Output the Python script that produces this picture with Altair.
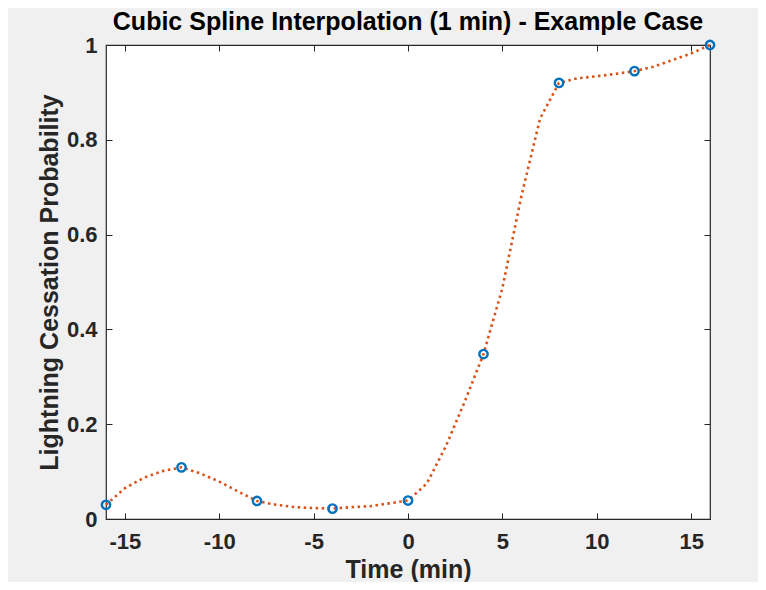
import altair as alt
import pandas as pd

# 1-minute spline values
minutes = list(range(-16, 17))
spline_prob = [0.030, 0.065, 0.087, 0.101, 0.109, 0.096, 0.079, 0.058, 0.038,
               0.030, 0.025, 0.023, 0.022, 0.025, 0.027, 0.033, 0.039,
               0.075, 0.153, 0.247, 0.348, 0.487, 0.680, 0.845, 0.920,
               0.930, 0.934, 0.939, 0.945, 0.954, 0.968, 0.982, 1.000]

# Original data points (every 4 min)
obs_minutes = [-16, -12, -8, -4, 0, 4, 8, 12, 16]
obs_prob = [0.030, 0.109, 0.038, 0.022, 0.039, 0.348, 0.920, 0.945, 1.000]

x_ticks = [-15, -10, -5, 0, 5, 10, 15]
y_ticks = [0, 0.2, 0.4, 0.6, 0.8, 1.0]

line_df = pd.DataFrame({"t": minutes, "p": spline_prob})
pts_df = pd.DataFrame({"t": obs_minutes, "p": obs_prob})

FONT = "Liberation Sans"
AX = "#262626"

xscale = alt.Scale(domain=[-16, 16], nice=False, zero=False)
yscale = alt.Scale(domain=[0, 1], nice=False)

tick_axis = dict(domain=False, grid=False, tickColor=AX, tickSize=6, tickWidth=1,
                 offset=-6, labelFont=FONT, labelFontSize=22, labelFontWeight="bold",
                 labelColor=AX)
common_axis = dict(tick_axis, titleFont=FONT, titleFontSize=25, titleFontWeight="bold",
                   titleColor=AX)

line = alt.Chart(line_df).mark_line(
    color="#D95319", strokeWidth=2.6, strokeDash=[2.5, 3.5], interpolate="linear"
).encode(
    x=alt.X("t:Q", scale=xscale,
            axis=alt.Axis(values=x_ticks, orient="bottom", title="Time (min)",
                          labelExpr="'' + datum.value",
                          labelPadding=12, titlePadding=5, **common_axis)),
    y=alt.Y("p:Q", scale=yscale,
            axis=alt.Axis(values=y_ticks, orient="left", format=".1~f",
                          title="Lightning Cessation Probability",
                          labelPadding=9, titlePadding=4, **common_axis)),
)

pts = alt.Chart(pts_df).mark_point(
    shape="circle", filled=False, color="#0072BD", size=70, strokeWidth=2.4, opacity=1
).encode(
    x=alt.X("t:Q", scale=xscale,
            axis=alt.Axis(values=x_ticks, orient="top", labels=False, title=None, **tick_axis)),
    y=alt.Y("p:Q", scale=yscale,
            axis=alt.Axis(values=y_ticks, orient="right", labels=False, title=None, **tick_axis)),
)

chart = alt.layer(line, pts).resolve_axis(x="independent", y="independent").properties(
    width=604,
    height=474,
    title=alt.TitleParams("Cubic Spline Interpolation (1 min) - Example Case",
                          font=FONT, fontSize=25, fontWeight="bold", color="#000000",
                          anchor="middle", offset=-1),
    autosize=alt.AutoSizeParams(type="none"),
    padding={"left": 98, "top": 37, "right": 48, "bottom": 63},
    background="#f0f0f0",
).configure_view(
    fill="white", stroke=AX, strokeWidth=1.2
)

chart.save("out.html", embed_options={"renderer": "svg", "actions": False})
